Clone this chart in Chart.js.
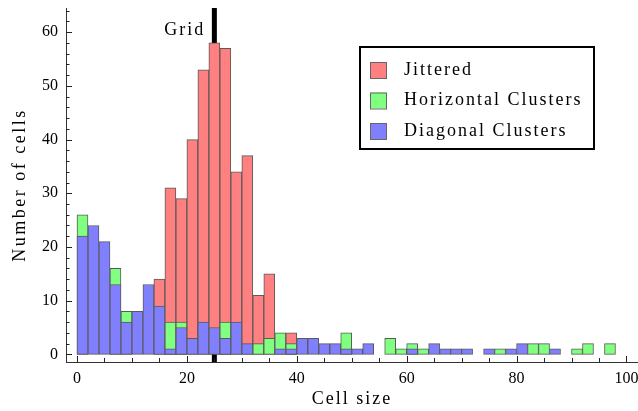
<!DOCTYPE html>
<html lang="en">
  <head>
    <meta charset="UTF-8" />
    <title>Cell size histogram</title>
    <script src="https://cdn.jsdelivr.net/npm/chart.js"></script>
    <style>
      body {
        margin: 0;
        background: #fff;
      }
      canvas {
        display: block;
      }
    </style>
  </head>
  <body>
    <canvas id="chartCanvas" width="638" height="411"></canvas>

    <script>
      // histogram bins: 0-2, 2-4, ... 98-100 (null = no visible bar)
      const binWidth = 2;
      const jittered = [
        null, null, null, null, null, null, null, 14, 31, 29,
        40, 53, 58, 57, 34, 37, 11, 15, null, 4,
        null, null, null, null, null, null, null, null, null, null,
        null, null, null, null, null, null, null, null, null, null,
        null, null, null, null, null, null, null, null, null, null,
      ];
      const horizontal = [
        26, null, null, 16, 8, null, null, null, 6, 6,
        null, null, null, 6, null, null, 2, 3, 4, 2,
        null, null, null, null, 4, null, null, null, 3, 1,
        2, 1, null, null, null, null, null, null, 1, null,
        null, 2, 2, null, null, 1, 2, null, 2, null,
      ];
      const diagonal = [
        22, 24, 21, 13, 6, 8, 13, 9, 1, 5,
        3, 6, 5, 3, 6, 2, null, null, 1, 1,
        3, 3, 2, 2, 1, 1, 2, null, null, null,
        1, null, 2, 1, 1, 1, null, 1, null, 1,
        2, null, null, 1, null, null, null, null, null, null,
      ];
      const seriesNames = ["Jittered", "Horizontal Clusters", "Diagonal Clusters"];
      const seriesColors = ["#ff8080", "#80ff80", "#8080ff"];
      const gridValue = 25;
      const xTitle = "Cell size";
      const yTitle = "Number of cells";

      const toPoints = (arr) =>
        arr.map((v, i) => ({ x: i * binWidth + binWidth / 2, y: v }));

      const serif = "'Liberation Serif', 'Times New Roman', serif";

      const overlay = {
        id: "overlay",
        beforeDatasetsDraw(chart) {
          const { ctx, chartArea, scales } = chart;
          const gx = scales.x.getPixelForValue(gridValue);
          ctx.save();
          ctx.fillStyle = "#000";
          ctx.fillRect(gx - 2.5, chartArea.top, 5, chartArea.bottom - chartArea.top);
          ctx.restore();
        },
        afterDraw(chart) {
          const { ctx, chartArea, scales } = chart;
          const x = scales.x;
          const y = scales.y;
          ctx.save();

          // inward tick marks
          ctx.strokeStyle = "#222";
          ctx.lineWidth = 1;
          ctx.beginPath();
          for (let v = 0; v <= 64; v += 2) {
            const py = Math.round(y.getPixelForValue(v)) + 0.5;
            const len = v % 10 === 0 ? 6 : 3.5;
            ctx.moveTo(chartArea.left, py);
            ctx.lineTo(chartArea.left + len, py);
          }
          for (let v = 0; v <= 100; v += 5) {
            const px = Math.round(x.getPixelForValue(v)) + 0.5;
            const len = v % 20 === 0 ? 6 : 4;
            ctx.moveTo(px, chartArea.bottom);
            ctx.lineTo(px, chartArea.bottom - len);
          }
          ctx.stroke();

          ctx.fillStyle = "#000";
          ctx.font = "18px " + serif;
          ctx.letterSpacing = "2px";

          // grid label
          const gx = x.getPixelForValue(gridValue);
          ctx.textAlign = "right";
          ctx.textBaseline = "alphabetic";
          ctx.fillText("Grid", gx - 9, 35);

          // axis titles
          ctx.textAlign = "center";
          ctx.fillText(xTitle, (chartArea.left + chartArea.right) / 2, 404);
          ctx.save();
          ctx.translate(25, (chartArea.top + chartArea.bottom) / 2);
          ctx.rotate(-Math.PI / 2);
          ctx.letterSpacing = "2.5px";
          ctx.fillText(yTitle, 0, 0);
          ctx.restore();

          // legend box
          const lx = 360, ly = 47, lw = 234, lh = 102;
          ctx.fillStyle = "#fff";
          ctx.fillRect(lx, ly, lw, lh);
          ctx.strokeStyle = "#000";
          ctx.lineWidth = 2;
          ctx.strokeRect(lx, ly, lw, lh);
          ctx.textAlign = "left";
          ctx.textBaseline = "middle";
          seriesNames.forEach((name, i) => {
            const cy = 70 + i * 30.5;
            ctx.fillStyle = seriesColors[i];
            ctx.fillRect(370, cy - 8, 16, 16);
            ctx.strokeStyle = "#666";
            ctx.lineWidth = 1;
            ctx.strokeRect(370.5, cy - 7.5, 16, 16);
            ctx.fillStyle = "#000";
            ctx.fillText(name, 404, cy);
          });
          ctx.restore();
        },
      };

      const series = [jittered, horizontal, diagonal];
      const ctx = document.getElementById("chartCanvas").getContext("2d");
      const chart = new Chart(ctx, {
        type: "bar",
        data: {
          datasets: series.map((arr, i) => ({
            label: seriesNames[i],
            data: toPoints(arr),
            backgroundColor: seriesColors[i],
            borderColor: "#5a5a5a",
            borderWidth: 1,
            borderSkipped: false,
            barPercentage: 1,
            categoryPercentage: 1,
            grouped: false,
            order: 3 - i,
          })),
        },
        options: {
          responsive: false,
          devicePixelRatio: 1,
          animation: false,
          events: [],
          layout: { padding: { top: 8, right: 0, left: 0, bottom: 0 } },
          plugins: {
            legend: { display: false },
            tooltip: { enabled: false },
          },
          scales: {
            x: {
              type: "linear",
              offset: false,
              min: -2,
              max: 102.1,
              grid: { display: false, drawTicks: false, offset: false },
              border: { display: true, color: "#333", width: 1 },
              ticks: {
                stepSize: 20,
                includeBounds: false,
                maxRotation: 0,
                autoSkip: false,
                padding: 7,
                color: "#000",
                font: { family: serif, size: 16 },
              },
              afterFit(scale) {
                scale.height = 49;
                scale.paddingLeft = 0;
                scale.paddingRight = 0;
              },
            },
            y: {
              min: -1.43,
              max: 64.5,
              grid: { display: false, drawTicks: false },
              border: { display: true, color: "#333", width: 1 },
              ticks: {
                stepSize: 10,
                includeBounds: false,
                padding: 8,
                color: "#000",
                font: { family: serif, size: 16 },
              },
              afterFit(scale) {
                scale.width = 66;
                scale.paddingTop = 0;
                scale.paddingBottom = 0;
              },
            },
          },
        },
        plugins: [overlay],
      });
    </script>
  </body>
</html>
